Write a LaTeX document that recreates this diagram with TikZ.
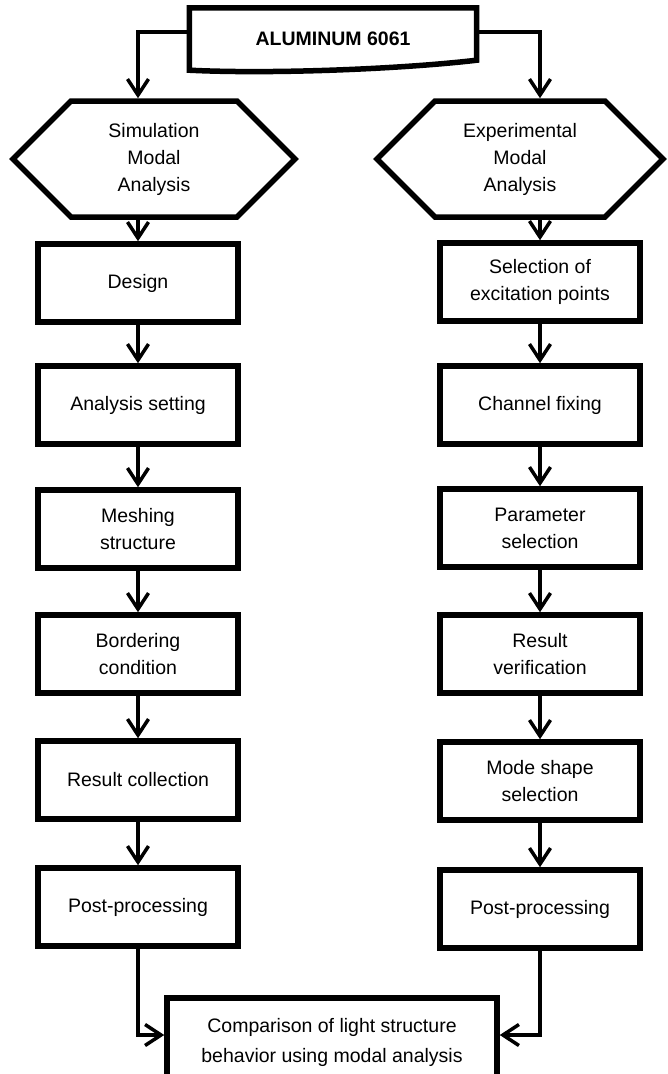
\documentclass[tikz,border=0pt]{standalone}
\usepackage{fontspec}
\setmainfont{Liberation Sans}
\usetikzlibrary{arrows.meta, shapes.symbols}

\begin{document}
\begin{tikzpicture}[x=1pt, y=-1pt,
    font=\fontsize{19.5}{27}\selectfont,
    box/.style={draw, line width=5.5pt, minimum width=200pt, minimum height=78pt, align=center, inner sep=2pt},
    hexa/.style={draw, line width=5.5pt, signal, signal to=west and east, signal pointer angle=90, minimum height=116pt, align=center},
    arr/.style={line width=3.5pt, -{Straight Barb[length=16pt, width=21pt]}}]
    \useasboundingbox (0,0) rectangle (667,1074);

    \node[minimum width=287pt, minimum height=62pt, font=\fontsize{19.5}{27}\selectfont\bfseries] (alu) at (333,39) {ALUMINUM 6061};
    \draw[line width=5.5pt] (alu.north west) -- (alu.north east) -- ([yshift=10pt]alu.south east) .. controls ([xshift=67pt, yshift=1pt]alu.south) and ([xshift=-63pt, yshift=-4pt]alu.south) .. (alu.south west) -- cycle;

    \node[hexa, minimum width=282pt] (sim) at (154,159) {Simulation\\Modal\\Analysis};
    \node[hexa, minimum width=286pt] (exp) at (520,159) {Experimental\\Modal\\Analysis};

    \node[box] (design) at (138,283) {Design};
    \node[box] (setting) at (138,405) {Analysis setting};
    \node[box] (mesh) at (138,529) {Meshing\\structure};
    \node[box] (border) at (138,654) {Bordering\\condition};
    \node[box] (collect) at (138,780) {Result collection};
    \node[box] (postL) at (138,907) {Post-processing};

    \node[box] (select) at (540,282) {Selection of\\excitation points};
    \node[box] (channel) at (540,405) {Channel fixing};
    \node[box] (param) at (540,528) {Parameter\\selection};
    \node[box] (verify) at (540,654) {Result\\verification};
    \node[box] (mode) at (540,781) {Mode shape\\selection};
    \node[box] (postR) at (540,909) {Post-processing};

    \node[box, minimum width=330pt, minimum height=88pt, font=\fontsize{19.5}{30}\selectfont] (comp) at (332,1042) {Comparison of light structure\\behavior using modal analysis};

    \draw[arr] ([yshift=7pt]alu.west) -| (sim.north -| design.north);
    \draw[arr] ([yshift=7pt]alu.east) -| (exp.north -| select.north);
    \draw[arr] (sim.south -| design.north) -- (design);
    \draw[arr] (exp.south -| select.north) -- (select);

    \draw[arr] (design) -- (setting);
    \draw[arr] (setting) -- (mesh);
    \draw[arr] (mesh) -- (border);
    \draw[arr] (border) -- (collect);
    \draw[arr] (collect) -- (postL);

    \draw[arr] (select) -- (channel);
    \draw[arr] (channel) -- (param);
    \draw[arr] (param) -- (verify);
    \draw[arr] (verify) -- (mode);
    \draw[arr] (mode) -- (postR);

    \draw[arr] (postL) |- ([yshift=7pt]comp.west);
    \draw[arr] (postR) |- ([yshift=7pt]comp.east);
\end{tikzpicture}
\end{document}
